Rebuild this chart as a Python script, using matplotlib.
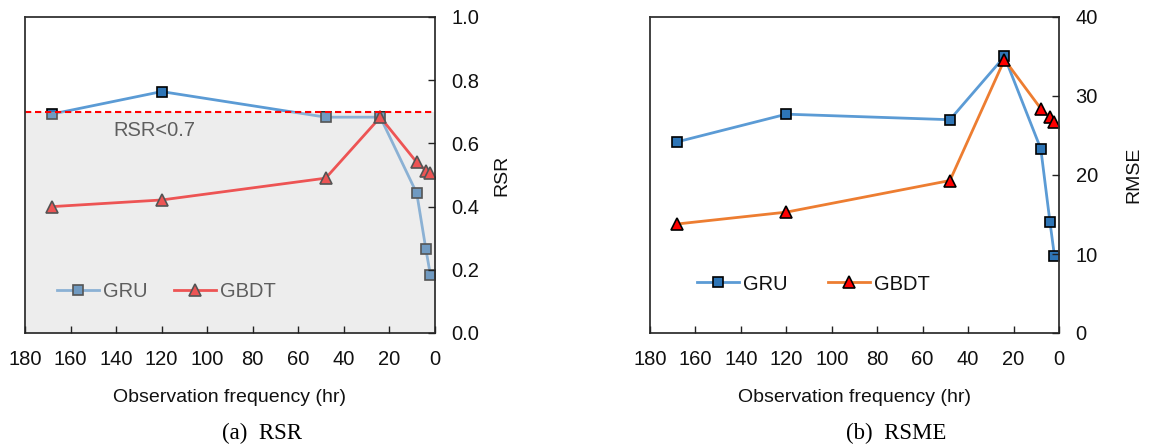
import matplotlib
matplotlib.use("Agg")
import matplotlib.pyplot as plt
import numpy as np

plt.rcParams['font.family'] = ['Liberation Sans', 'DejaVu Sans']

hours = [168, 120, 48, 24, 8, 4, 2]

rsr_gru = [0.693, 0.764, 0.683, 0.683, 0.442, 0.265, 0.183]
rsr_gbdt = [0.400, 0.421, 0.490, 0.683, 0.540, 0.514, 0.505]

rmse_gru = [24.2, 27.7, 27.0, 35.0, 23.3, 14.1, 9.75]
rmse_gbdt = [13.8, 15.3, 19.3, 34.6, 28.4, 27.3, 26.7]

x_ticks = list(range(0, 181, 20))
rsr_ticks = [0.0, 0.2, 0.4, 0.6, 0.8, 1.0]
rmse_ticks = [0, 10, 20, 30, 40]
threshold = 0.7

W, H = 1157, 448
fig = plt.figure(figsize=(W / 100, H / 100), dpi=100)
ax1 = fig.add_axes([25 / W, 1 - 333 / H, 410 / W, 316 / H])
ax2 = fig.add_axes([650 / W, 1 - 333 / H, 409 / W, 316 / H])


def style(ax, yticks, ylabel, fmt, lpad):
    ax.set_xlim(180, 0)
    ax.set_ylim(yticks[0], yticks[-1])
    ax.set_xticks(x_ticks)
    ax.set_yticks(yticks)
    ax.set_yticklabels([fmt.format(v) for v in yticks])
    ax.yaxis.tick_right()
    ax.yaxis.set_label_position('right')
    ax.tick_params(axis='x', direction='in', length=5, width=1, pad=12,
                   labelsize=14.5, colors='#222222', labelcolor='#111111')
    ax.tick_params(axis='y', direction='in', length=5, width=1, pad=12,
                   labelsize=14.5, colors='#222222', labelcolor='#111111')
    ax.set_ylabel(ylabel, fontsize=14, labelpad=lpad, color='#111111')
    ax.set_xlabel("Observation frequency (hr)", fontsize=14, labelpad=15,
                  color='#111111')
    for s in ax.spines.values():
        s.set_linewidth(1.3)
        s.set_color('#333333')
        s.set_zorder(12)
    ax.xaxis.set_zorder(12)
    ax.yaxis.set_zorder(12)


# (a) RSR
ax1.plot(hours, rsr_gru, color='#5b9bd5', lw=2, marker='s', ms=7,
         mfc='#2e75b6', mec='black', mew=1.2, label='GRU', zorder=3)
ax1.plot(hours, rsr_gbdt, color='#ff0000', lw=2, marker='^', ms=9,
         mfc='#ff0000', mec='black', mew=1.2, label='GBDT', zorder=3)
ax1.text(123, 0.642, "RSR<0.7", fontsize=14.5, color='#111111',
         ha='center', va='center', zorder=4)
leg1 = ax1.legend(ncol=2, frameon=False, loc='center left',
                  bbox_to_anchor=(0.078, 0.13), borderaxespad=0, borderpad=0,
                  fontsize=14.5, handlelength=2.1, handletextpad=0.2,
                  columnspacing=1.3)
leg1.set_zorder(4)
for t in leg1.get_texts():
    t.set_color('#111111')
ax1.axhspan(0, threshold, color='#d4d4d4', alpha=0.4, lw=0, zorder=6)
ax1.axhline(threshold, color='#ff0000', lw=1.5, ls=(0, (3, 1.8)), zorder=7)
style(ax1, rsr_ticks, 'RSR', '{:.1f}', 10)

# (b) RMSE
ax2.plot(hours, rmse_gru, color='#5b9bd5', lw=2, marker='s', ms=7,
         mfc='#2e75b6', mec='black', mew=1.2, label='GRU', zorder=3)
ax2.plot(hours, rmse_gbdt, color='#ed7d31', lw=2, marker='^', ms=9,
         mfc='#ff0000', mec='black', mew=1.2, label='GBDT', zorder=4)
leg2 = ax2.legend(ncol=2, frameon=False, loc='center left',
                  bbox_to_anchor=(0.115, 0.155), borderaxespad=0, borderpad=0,
                  fontsize=14.5, handlelength=2.1, handletextpad=0.2,
                  columnspacing=2.0)
for t in leg2.get_texts():
    t.set_color('#111111')
style(ax2, rmse_ticks, 'RMSE', '{:d}', 20)

fig.text(262 / W, 1 - 433 / H, "(a)  RSR", fontsize=16.5, family='Liberation Serif',
         ha='center', va='center')
fig.text(896 / W, 1 - 433 / H, "(b)  RSME", fontsize=16.5, family='Liberation Serif',
         ha='center', va='center')

fig.savefig("out.png", dpi=100)
plt.close(fig)
